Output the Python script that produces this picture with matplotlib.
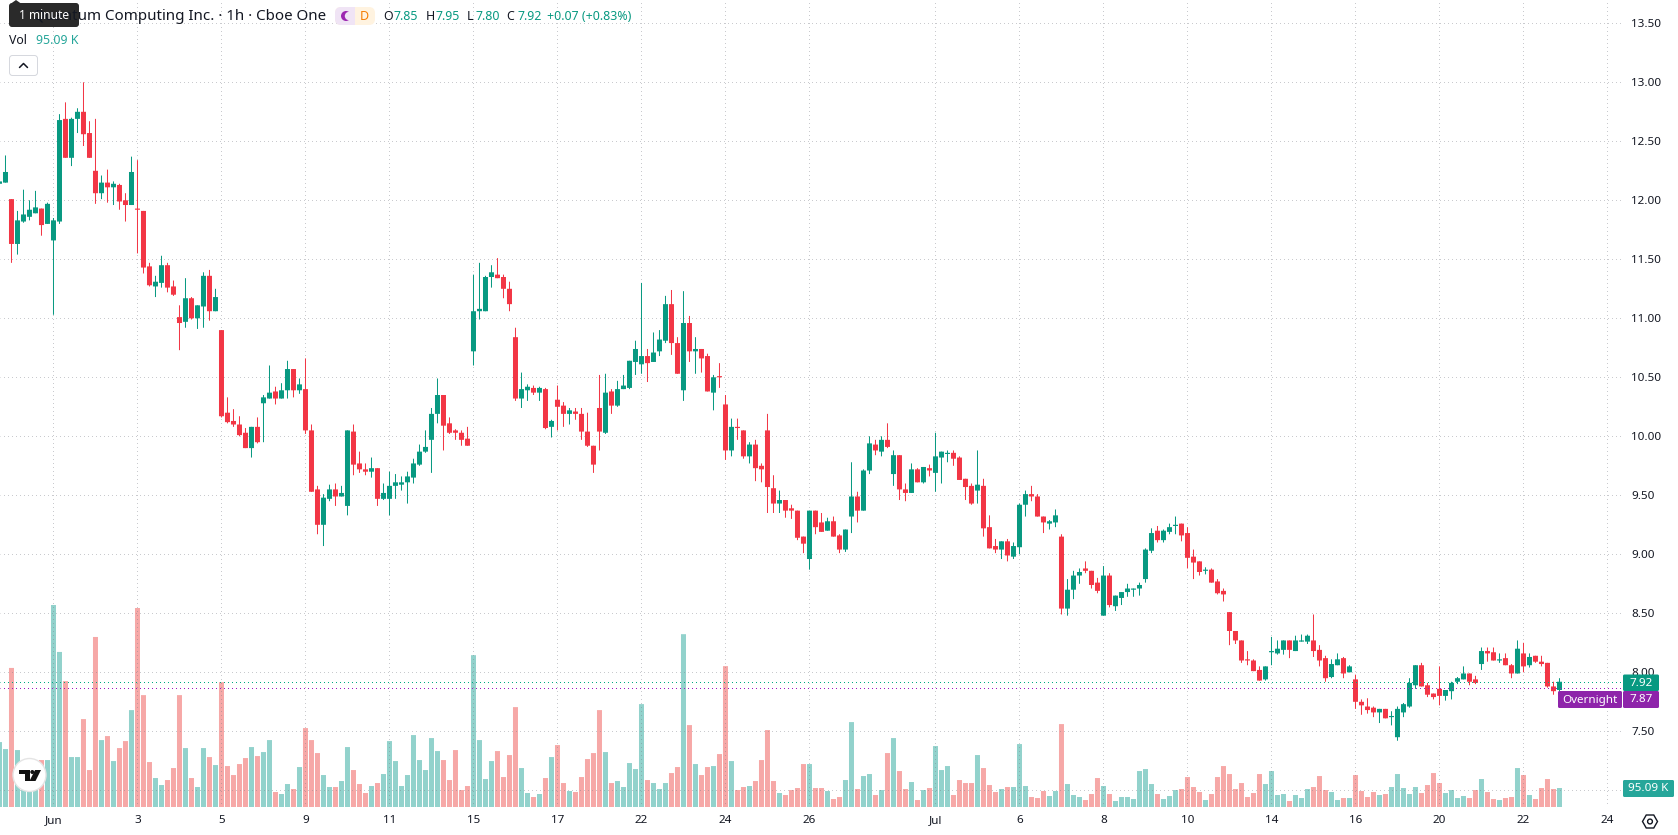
import matplotlib
matplotlib.use("Agg")
import matplotlib.pyplot as plt
from matplotlib.patches import Circle, FancyBboxPatch, Polygon, Rectangle, RegularPolygon

W, H = 1678, 835
PANE_R, PANE_B = 1621, 807

# hourly candles, oldest first
opens = [
    12.14,12.15,12.01,11.63,11.82,11.86,11.89,11.93,11.80,11.66,
    11.82,12.69,12.36,12.69,12.75,12.57,12.25,12.06,12.15,12.11,
    12.13,12.00,11.96,11.93,11.91,11.44,11.27,11.30,11.45,11.27,
    11.01,10.97,11.17,11.00,11.10,11.36,11.06,10.90,10.20,10.13,
    10.10,10.03,9.90,10.08,10.28,10.32,10.38,10.32,10.39,10.57,
    10.39,10.40,10.05,9.55,9.25,9.47,9.55,9.49,9.41,10.04,
    9.77,9.72,9.70,9.73,9.47,9.47,9.58,9.59,9.61,9.65,
    9.76,9.87,9.97,10.19,10.35,10.11,10.05,10.03,9.98,10.72,
    11.06,11.06,11.35,11.37,11.35,11.25,10.84,10.32,10.39,10.41,
    10.37,10.40,10.08,10.31,10.26,10.19,10.21,10.19,10.04,9.92,
    10.24,10.03,10.38,10.26,10.40,10.41,10.63,10.61,10.68,10.63,
    10.72,10.81,11.12,10.79,10.39,10.96,10.72,10.74,10.68,10.37,
    10.51,10.27,9.88,10.08,10.05,9.83,9.93,9.75,10.05,9.56,
    9.43,9.46,9.39,9.37,9.15,8.96,9.37,9.27,9.20,9.28,
    9.16,9.04,9.32,9.49,9.37,9.71,9.93,9.87,9.97,9.68,
    9.84,9.55,9.52,9.72,9.61,9.73,9.69,9.82,9.85,9.86,
    9.82,9.64,9.58,9.54,9.58,9.23,9.07,9.04,9.11,8.98,
    9.06,9.42,9.51,9.49,9.32,9.26,9.27,9.15,8.54,8.70,
    8.82,8.88,8.86,8.76,8.48,8.82,8.56,8.63,8.68,8.70,
    8.71,8.79,9.03,9.20,9.12,9.19,9.24,9.26,9.18,8.98,
    8.94,8.86,8.87,8.77,8.69,8.51,8.35,8.27,8.11,8.10,
    8.02,7.94,8.17,8.16,8.19,8.27,8.18,8.26,8.26,8.27,
    8.19,8.12,7.96,8.06,8.12,8.00,7.94,7.75,7.71,7.70,
    7.66,7.69,7.62,7.45,7.66,7.71,7.89,8.06,7.89,7.82,
    7.86,7.80,7.84,7.92,7.94,7.99,7.94,8.07,8.18,8.17,
    8.10,8.12,8.06,7.99,8.16,8.06,8.14,8.09,8.08,7.88,7.85,
]
highs = [
    12.16,12.38,12.01,11.91,12.09,12.00,12.08,11.93,11.98,11.85,
    12.73,12.83,12.70,12.78,13.00,12.67,12.69,12.21,12.26,12.16,
    12.14,12.06,12.37,12.34,11.91,11.47,11.36,11.53,11.47,11.32,
    11.11,11.34,11.18,11.11,11.39,11.41,11.25,10.90,10.33,10.23,
    10.17,10.07,10.08,10.16,10.35,10.60,10.42,10.45,10.64,10.57,
    10.49,10.66,10.10,9.58,9.51,9.59,9.60,9.58,10.05,10.10,
    9.87,9.77,9.82,9.73,9.60,9.70,9.68,9.66,9.70,9.81,
    9.93,10.05,10.24,10.49,10.35,10.16,10.06,10.05,10.08,11.37,
    11.47,11.36,11.45,11.51,11.37,11.31,10.92,10.54,10.44,10.43,
    10.42,10.41,10.14,10.43,10.29,10.24,10.24,10.24,10.20,9.92,
    10.52,10.53,10.40,10.47,10.52,10.64,10.81,11.30,10.74,10.88,
    10.90,11.19,11.24,10.84,11.23,11.02,10.84,10.74,10.70,10.52,
    10.62,10.35,10.15,10.15,10.05,9.95,9.97,9.77,10.19,9.67,
    9.54,9.46,9.42,9.37,9.15,9.37,9.37,9.35,9.31,9.32,
    9.17,9.21,9.78,9.53,9.72,10.00,9.97,10.00,10.11,9.88,
    9.84,9.60,9.77,9.73,9.74,9.76,10.03,9.87,9.88,9.88,
    9.83,9.64,9.60,9.88,9.64,9.33,9.13,9.11,9.13,9.10,
    9.43,9.54,9.58,9.51,9.32,9.29,9.38,9.17,8.79,8.86,
    8.88,8.94,8.86,8.80,8.90,8.84,8.65,8.68,8.75,8.71,
    8.76,9.05,9.22,9.24,9.21,9.26,9.32,9.26,9.23,9.04,
    8.94,8.89,8.88,8.79,8.71,8.51,8.35,8.27,8.18,8.11,
    8.05,8.05,8.30,8.27,8.27,8.27,8.31,8.32,8.32,8.49,
    8.23,8.14,8.11,8.16,8.13,8.06,7.98,7.77,7.78,7.71,
    7.69,7.69,7.67,7.71,7.74,7.95,8.06,8.08,7.91,7.82,
    8.05,7.85,7.92,7.96,8.05,7.99,7.97,8.21,8.21,8.21,
    8.16,8.16,8.07,8.27,8.25,8.16,8.14,8.14,8.08,7.92,7.95,
]
lows = [
    12.14,12.15,11.47,11.54,11.81,11.83,11.89,11.70,11.80,11.03,
    11.80,12.36,12.29,12.57,12.46,12.36,11.97,12.01,11.98,11.96,
    11.92,11.82,11.96,11.55,11.38,11.27,11.18,11.26,11.22,11.19,
    10.73,10.92,10.99,10.91,10.92,10.98,11.06,10.16,10.11,10.08,
    10.00,9.90,9.82,9.94,9.95,10.32,10.27,10.32,10.32,10.33,
    10.36,10.02,9.53,9.17,9.07,9.45,9.41,9.49,9.33,9.67,
    9.69,9.67,9.65,9.41,9.46,9.33,9.47,9.54,9.43,9.60,
    9.75,9.86,9.69,10.11,9.88,10.02,9.97,9.92,9.92,10.60,
    10.99,11.06,11.26,11.34,11.17,11.06,10.30,10.24,10.30,10.35,
    10.30,10.06,9.99,10.05,10.08,10.10,10.14,9.97,9.91,9.69,
    9.88,10.02,10.19,10.25,10.40,10.40,10.52,10.53,10.46,10.63,
    10.68,10.79,10.69,10.53,10.30,10.63,10.53,10.54,10.38,10.22,
    10.41,9.80,9.83,9.97,9.81,9.77,9.62,9.61,9.35,9.35,
    9.35,9.31,9.30,9.12,9.01,8.87,9.17,9.19,9.20,9.15,
    9.01,9.02,9.18,9.27,9.37,9.68,9.84,9.83,9.90,9.58,
    9.46,9.45,9.52,9.61,9.60,9.66,9.53,9.60,9.78,9.75,
    9.63,9.46,9.42,9.43,9.15,9.05,9.01,8.96,8.94,8.96,
    9.00,9.32,9.45,9.32,9.18,9.21,9.23,8.49,8.48,8.62,
    8.75,8.84,8.71,8.67,8.48,8.55,8.52,8.57,8.64,8.64,
    8.65,8.76,9.01,9.10,9.10,9.17,9.17,9.11,8.88,8.79,
    8.82,8.83,8.76,8.66,8.60,8.23,8.24,8.08,8.06,8.01,
    7.93,7.93,8.06,8.15,8.15,8.12,8.18,8.26,8.24,8.13,
    8.05,7.92,7.95,8.06,7.95,8.00,7.69,7.64,7.65,7.62,
    7.57,7.61,7.55,7.42,7.62,7.70,7.86,7.88,7.79,7.77,
    7.72,7.76,7.77,7.90,7.94,7.89,7.90,8.02,8.09,8.10,
    8.08,8.06,7.95,7.99,8.00,8.04,8.08,8.05,7.87,7.81,7.80,
]
closes = [
    12.16,12.24,11.63,11.83,11.88,11.92,11.94,11.79,11.97,11.83,
    12.68,12.36,12.69,12.75,12.56,12.36,12.06,12.15,12.11,12.14,
    11.99,11.96,12.24,11.92,11.43,11.28,11.31,11.45,11.26,11.20,
    10.96,11.17,11.00,11.11,11.36,11.06,11.18,10.17,10.12,10.10,
    10.01,9.90,10.08,9.95,10.33,10.37,10.32,10.39,10.57,10.39,
    10.44,10.05,9.53,9.25,9.48,9.55,9.49,9.52,10.05,9.76,
    9.72,9.70,9.73,9.47,9.52,9.58,9.61,9.61,9.66,9.77,
    9.87,9.91,10.19,10.35,10.09,10.03,10.03,9.97,9.92,11.06,
    11.08,11.35,11.39,11.34,11.25,11.12,10.32,10.40,10.42,10.37,
    10.41,10.07,10.13,10.25,10.19,10.22,10.19,10.04,9.92,9.76,
    10.04,10.37,10.26,10.40,10.43,10.64,10.74,10.68,10.62,10.71,
    10.82,11.12,10.79,10.53,10.96,10.72,10.74,10.66,10.38,10.50,
    10.50,9.88,10.08,10.07,9.83,9.93,9.73,9.72,9.57,9.43,
    9.46,9.37,9.37,9.14,9.09,9.37,9.23,9.19,9.28,9.15,
    9.04,9.21,9.49,9.37,9.71,9.94,9.88,9.97,9.91,9.84,
    9.55,9.52,9.72,9.61,9.74,9.71,9.83,9.87,9.86,9.81,
    9.63,9.57,9.43,9.59,9.22,9.05,9.04,9.11,8.99,9.07,
    9.42,9.51,9.49,9.32,9.27,9.28,9.33,8.54,8.70,8.82,
    8.85,8.86,8.74,8.69,8.82,8.57,8.65,8.68,8.71,8.71,
    8.74,9.04,9.18,9.12,9.20,9.23,9.25,9.16,8.97,8.93,
    8.85,8.87,8.76,8.67,8.66,8.35,8.27,8.10,8.10,8.01,
    7.93,8.05,8.18,8.20,8.27,8.19,8.27,8.27,8.31,8.18,
    8.10,7.95,8.07,8.11,7.99,8.05,7.75,7.72,7.68,7.66,
    7.69,7.61,7.63,7.69,7.73,7.91,8.06,7.88,7.81,7.79,
    7.80,7.85,7.91,7.95,7.99,7.92,7.91,8.18,8.16,8.10,
    8.11,8.06,7.99,8.20,8.05,8.13,8.09,8.07,7.88,7.84,7.92,
]
# volume per candle, thousands of shares
volumes = [
    325,290,696,285,202,135,152,235,235,1011,
    776,630,250,250,440,185,851,335,355,230,
    295,330,485,996,560,225,145,110,135,195,
    560,295,145,100,295,250,210,625,205,160,
    215,245,300,255,275,335,75,65,115,90,
    200,395,335,270,160,100,100,130,300,185,
    115,70,105,120,165,330,230,105,160,360,
    235,185,345,280,235,135,285,85,105,760,
    335,140,230,280,150,260,500,195,70,50,
    65,145,250,310,120,80,75,150,240,270,
    485,275,120,130,100,220,190,515,135,120,
    90,120,170,200,865,410,215,160,200,205,
    265,705,230,85,100,105,130,235,385,130,
    70,60,85,95,215,215,95,95,80,40,
    50,135,425,90,155,165,60,85,270,345,
    180,90,125,35,85,95,305,185,205,60,
    135,120,120,260,195,110,75,90,100,100,
    315,105,50,45,80,55,80,415,115,60,
    50,35,65,145,105,65,30,50,50,40,
    180,190,115,65,40,55,85,90,150,100,
    75,35,65,150,205,165,90,120,50,70,
    165,115,180,60,65,30,60,45,90,100,
    155,85,75,35,45,45,160,80,50,75,
    60,65,100,165,95,65,100,70,110,170,
    120,70,85,45,55,45,85,140,75,40,
    35,45,50,195,160,60,40,95,140,90,95.09,
]

price_ticks = [7.0, 7.5, 8.0, 8.5, 9.0, 9.5, 10.0, 10.5, 11.0, 11.5, 12.0, 12.5, 13.0, 13.5]
date_ticks = [9, 23, 37, 51, 65, 79, 93, 107, 121, 135, 156, 170, 184, 198, 212, 226, 240, 254, 268]
date_labels = ["Jun", "3", "5", "9", "11", "15", "17", "22", "24", "26", "Jul", "6", "8", "10", "14", "16", "20", "22", "24"]
last_close = 7.92
overnight = 7.87

UP, DOWN = "#089981", "#F23645"
VOL_UP, VOL_DOWN = "#26a69a", "#ef5350"
INK = "#131722"
FONT = "Noto Sans"
PX = 0.72  # one pixel in points at dpi 100
DOTS = (0.5, (1, 3))  # offset keeps the 1px dots on whole pixels after snapping

fig = plt.figure(figsize=(W / 100, H / 100), dpi=100, facecolor="white")
rect = [0, (H - PANE_B) / H, PANE_R / W, PANE_B / H]

n = len(closes)
xs = list(range(n))
up = [c >= o for o, c in zip(opens, closes)]
# six pixels per candle; the small nudge stops grid lines snapping one pixel right
xlim = (0.51 / 6, (PANE_R + 0.51) / 6)

# volume sits behind the price axes, 5 K per pixel
ax_vol = fig.add_axes(rect, zorder=1)
ax_vol.set_xlim(*xlim)
ax_vol.set_ylim(0, PANE_B * 5.005)
ax_vol.bar(xs, volumes, width=5 / 6, color=[VOL_UP if u else VOL_DOWN for u in up], alpha=0.5, linewidth=0, snap=False)
ax_vol.axis("off")

ax = fig.add_axes(rect, zorder=2)
ax.patch.set_visible(False)
ax.set_xlim(*xlim)
ax.set_ylim(8 + (672.3 - PANE_B) / 118, 8 + 672.3 / 118)
for s in ax.spines.values():
    s.set_visible(False)

ax.set_yticks(price_ticks)
ax.set_yticklabels(["" if p == 7.0 else "%.2f" % p for p in price_ticks], fontfamily=FONT, fontsize=8.4, color=INK)
ax.yaxis.tick_right()
ax.set_xticks(date_ticks)
ax.set_xticklabels(date_labels, fontfamily=FONT, fontsize=8.4, color=INK)
ax.tick_params(length=0, axis="y", pad=7.2)
ax.tick_params(length=0, axis="x", pad=5.5)
for lab, p in zip(ax.get_yticklabels(), price_ticks):
    if p == int(p):
        lab.set_fontweight("bold")
for lab in ax.get_xticklabels():
    if lab.get_text() in ("Jun", "Jul"):
        lab.set_fontweight("bold")
ax.grid(True, color="#787b86", alpha=0.4, lw=PX, ls=DOTS, zorder=0)
ax.set_axisbelow(True)

colors = [UP if u else DOWN for u in up]
ax.vlines(xs, lows, highs, colors=colors, lw=PX, zorder=3, snap=False)
ax.bar(xs, [abs(c - o) for o, c in zip(opens, closes)], bottom=[min(o, c) for o, c in zip(opens, closes)],
       width=5 / 6, color=colors, linewidth=0, zorder=4, snap=False)

ax.axhline(last_close, color="#00aa82", lw=PX, ls=DOTS, zorder=5)
ax.axhline(overnight, color="#a014be", lw=PX, ls=DOTS, zorder=5)

# header, badges and logo are laid out in screen pixels
ui = fig.add_axes([0, 0, 1, 1], zorder=5)
ui.set_xlim(0, W)
ui.set_ylim(H, 0)
ui.axis("off")


def box(x0, y0, x1, y1, color, r=2.0, edge="none", lw=0):
    ui.add_patch(FancyBboxPatch((x0 + r, y0 + r), x1 - x0 - 2 * r, y1 - y0 - 2 * r,
                                boxstyle="round,pad=%g,rounding_size=%g" % (r, r),
                                fc=color, ec=edge, lw=lw))


def label(x, y, s, color=INK, size=8.4, ha="left", weight="normal"):
    ui.text(x, y, s, color=color, fontsize=size, ha=ha, va="center", fontfamily=FONT, fontweight=weight)


label(326, 16, "Quantum Computing Inc. · 1h · Cboe One", size=10.9, ha="right")
label(9, 40.5, "Vol", size=8.9)
label(36, 40.5, "95.09 K", color="#26a69a", size=8.9)

# session badges
box(335, 7, 375, 25, "#fff3e0", r=6)
box(335, 7, 355, 25, "#f0e4f5", r=6)
ui.add_patch(Rectangle((349, 7), 6, 18, fc="#f0e4f5", ec="none"))
ui.add_patch(Circle((346, 16), 5, fc="#9c27b0", ec="none"))
ui.add_patch(Circle((349, 16), 4.2, fc="#f0e4f5", ec="none"))
label(364.5, 16, "D", color="#f57c00", size=9, ha="center", weight="bold")

# legend values
for x, s, c in [(383, "O", INK), (394, "7.85", UP), (426, "H", INK), (436, "7.95", UP), (467, "L", INK),
                (475, "7.80", UP), (506, "C", INK), (517, "7.92", UP), (547, "+0.07 (+0.83%)", UP)]:
    label(x, 16, s, color=c, size=8.9)

# collapse button
box(9.5, 55.5, 37.5, 75.5, "white", r=3, edge="#d6d8de", lw=PX)
ui.plot([19.5, 23.5, 27.5], [67.5, 63.5, 67.5], color=INK, lw=1.1, solid_capstyle="round")

# interval tooltip covers the start of the title
ui.add_patch(Polygon([(11, 3.5), (16, 0), (21, 3.5)], fc="#2a2a2a", ec="none"))
box(9, 3, 79, 27, "#2a2a2a", r=3)
label(44, 15.5, "1 minute", color="white", size=8.6, ha="center")

# price badges on the scale
box(1623, 674.5, 1659, 691, UP, r=1.5)
label(1641, 683, "7.92", color="white", ha="center")
box(1558, 691, 1622, 708, "#8E24AA", r=1.5)
box(1623, 691, 1659, 708, "#8E24AA", r=1.5)
label(1590, 700, "Overnight", color="white", ha="center")
label(1641, 700, "7.87", color="white", ha="center")
box(1623, 780, 1674, 797, "#26a69a", r=1.5)
label(1648.5, 788.5, "95.09 K", color="white", ha="center")

# settings icon
ui.add_patch(RegularPolygon((1650, 821.5), 6, radius=7.5, orientation=3.14159 / 2, fc="white", ec=INK, lw=1.0))
ui.add_patch(Circle((1650, 821.5), 2.4, fc="white", ec=INK, lw=1.0))

# logo badge
ui.add_patch(Circle((29.5, 775), 16.5, fc="white", ec="#e4e4e4", lw=1.0))
ui.add_patch(Polygon([(19, 770), (29.5, 770), (29.5, 781), (24.5, 781), (24.5, 774), (19, 774)], fc="#111111", ec="none"))
ui.add_patch(Circle((32.3, 772), 2.0, fc="#111111", ec="none"))
ui.add_patch(Polygon([(35, 770), (41, 770), (35.5, 781), (29.5, 781)], fc="#111111", ec="none"))

fig.savefig("out.png", dpi=100, facecolor="white")
